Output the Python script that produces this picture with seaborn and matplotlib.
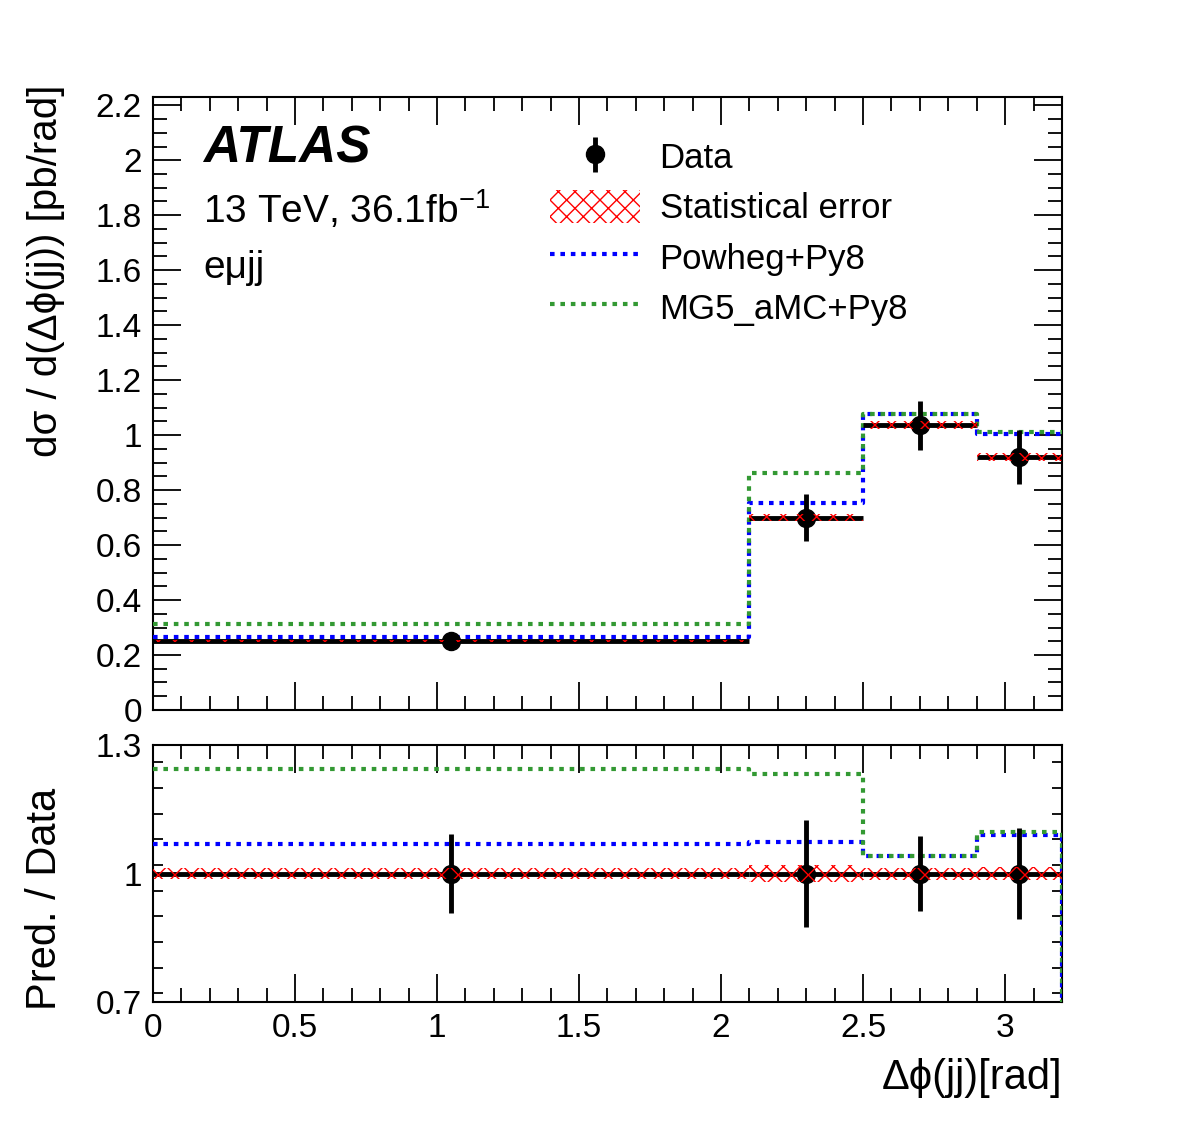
import numpy as np
import matplotlib
matplotlib.use("Agg")
import matplotlib.pyplot as plt
import seaborn as sns
from matplotlib.patches import Patch
from matplotlib.lines import Line2D
from matplotlib.ticker import MultipleLocator, FixedLocator

# values
bin_edges = [0.0, 2.1, 2.5, 2.9, 3.2]
bin_centres = [1.05, 2.3, 2.7, 3.05]
data_vals = [0.250, 0.700, 1.035, 0.920]
data_errs = [0.023, 0.087, 0.090, 0.097]
stat_rel = [0.013, 0.020, 0.014, 0.016]
powheg_vals = [0.267, 0.752, 1.077, 1.003]
mg5_vals = [0.311, 0.862, 1.077, 1.010]

sns.set_theme(style="ticks")
plt.rcParams["font.family"] = ["Liberation Sans", "DejaVu Sans"]
plt.rcParams["mathtext.fontset"] = "custom"
plt.rcParams["mathtext.rm"] = "Liberation Sans"
plt.rcParams["mathtext.it"] = "Liberation Sans:italic"
plt.rcParams["hatch.linewidth"] = 1.0
for key in ("text.color", "axes.labelcolor", "xtick.color", "ytick.color",
            "xtick.labelcolor", "ytick.labelcolor"):
    plt.rcParams[key] = "black"

fig = plt.figure(figsize=(11.82, 11.23), dpi=100)
ax = fig.add_axes([0.1294, 0.3678, 0.769, 0.5458])
rx = fig.add_axes([0.1294, 0.1077, 0.769, 0.2289], sharex=ax)

edges = np.array(bin_edges)
data = np.array(data_vals)
errs = np.array(data_errs)
srel = np.array(stat_rel)
pw = np.array(powheg_vals)
mg = np.array(mg5_vals)

dot = (0, (1.1, 1.4))
blue = "#0000ff"
green = "#339933"


def step(axis, vals, color, bottom=None):
    y = np.append(vals, vals[-1] if bottom is None else bottom)
    sns.lineplot(x=edges, y=y, ax=axis, drawstyle="steps-post", estimator=None,
                 sort=False, color=color, linestyle=dot, linewidth=3.0, legend=False,
                 zorder=3)


def stat_band(axis, centre, half, hatch):
    lo = np.append(centre - half, (centre - half)[-1])
    hi = np.append(centre + half, (centre + half)[-1])
    axis.fill_between(edges, lo, hi, step="post", facecolor="none", edgecolor="red",
                      hatch=hatch, linewidth=0, zorder=6)


# ---- upper panel
ax.hlines(data, edges[:-1], edges[1:], color="black", linewidth=3.5, zorder=4)
step(ax, pw, blue)
step(ax, mg, green)
eb = ax.errorbar(bin_centres, data, yerr=errs, fmt="o", color="black", markersize=13,
                 elinewidth=3.5, capsize=0, zorder=5)
stat_band(ax, data, data * srel, "xx")

ax.set_xlim(0, 3.2)
ax.set_ylim(0, 2.23)
ax.yaxis.set_minor_locator(MultipleLocator(0.05))
ax.xaxis.set_major_locator(MultipleLocator(0.5))
ax.xaxis.set_minor_locator(MultipleLocator(0.1))
ax.set_yticks(np.arange(0, 2.21, 0.2))
ax.set_yticklabels(["0", "0.2", "0.4", "0.6", "0.8", "1", "1.2", "1.4", "1.6",
                    "1.8", "2", "2.2"])
ax.tick_params(axis="x", labelbottom=False)
ax.set_ylabel("dσ / d(Δϕ(jj)) [pb/rad]", fontsize=29, loc="top")
ax.yaxis.set_label_coords(-0.097, 1.02)

ax.text(0.055, 0.915, "ATLAS", transform=ax.transAxes, fontsize=37,
        fontweight="bold", fontstyle="italic", va="center", ha="left")
ax.text(0.055, 0.816, r"13 TeV, 36.1fb$^{-1}$", transform=ax.transAxes, fontsize=28,
        va="center", ha="left")
ax.text(0.055, 0.721, "eμjj", transform=ax.transAxes, fontsize=28,
        va="center", ha="left")

handles = [eb,
           Patch(facecolor="none", edgecolor="red", hatch="xx", linewidth=0),
           Line2D([], [], color=blue, linestyle=dot, linewidth=3.0),
           Line2D([], [], color=green, linestyle=dot, linewidth=3.0)]
labels = ["Data", "Statistical error", "Powheg+Py8", "MG5_aMC+Py8"]
ax.legend(handles, labels, loc="upper left", bbox_to_anchor=(0.437, 0.93),
          frameon=False, fontsize=25, handlelength=2.6, handletextpad=0.55,
          labelspacing=0.42, borderpad=0, borderaxespad=0, handleheight=1.1)

# ---- ratio panel
ones = np.ones_like(data)
rx.hlines(ones, edges[:-1], edges[1:], color="black", linewidth=3.5, zorder=4)
step(rx, pw / data, blue, 0.7)
step(rx, mg / data, green, 0.7)
rx.errorbar(bin_centres, ones, yerr=errs / data, fmt="o", color="black", markersize=13,
            elinewidth=3.5, capsize=0, zorder=5)
stat_band(rx, ones, srel, "xx")

rx.set_ylim(0.7, 1.3)
rx.yaxis.set_major_locator(FixedLocator([0.7, 1.0, 1.3]))
rx.yaxis.set_minor_locator(MultipleLocator(0.06))
rx.set_yticklabels(["0.7", "1", "1.3"])
rx.set_xticks([0, 0.5, 1, 1.5, 2, 2.5, 3])
rx.set_xticklabels(["0", "0.5", "1", "1.5", "2", "2.5", "3"])
rx.set_ylabel("Pred. / Data", fontsize=30)
rx.yaxis.set_label_coords(-0.097, 0.4)
rx.set_xlabel("Δϕ(jj)[rad]", fontsize=30, loc="right", labelpad=10)

for a, maj, mnr in ((ax, 20, 10), (rx, 12, 7)):
    a.tick_params(which="both", direction="in", top=True, right=True,
                  width=1.3, labelsize=24, color="black", pad=8)
    a.tick_params(which="major", length=maj)
    a.tick_params(which="minor", length=mnr)
    for s in a.spines.values():
        s.set_linewidth(1.5)
        s.set_color("black")
rx.tick_params(axis="x", which="major", length=20)
rx.tick_params(axis="x", which="minor", length=10)

fig.savefig("out.png", dpi=100, facecolor="white")
